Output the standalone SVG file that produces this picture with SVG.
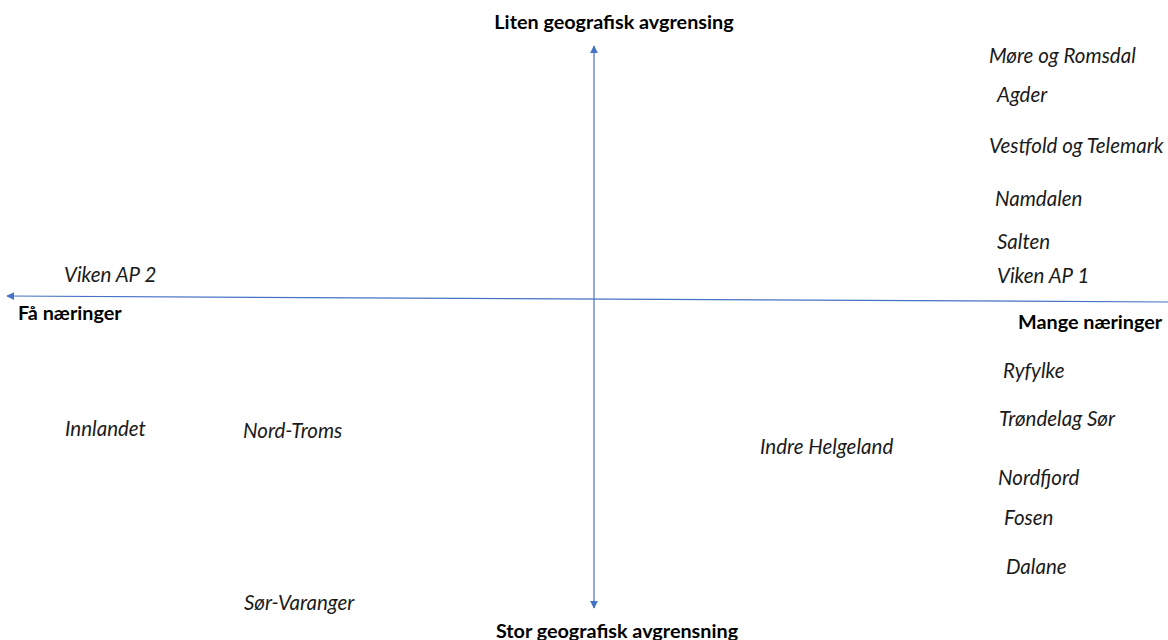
<svg xmlns="http://www.w3.org/2000/svg" width="1168" height="640" viewBox="0 0 1168 640">
<style>
.l{font-family:Lato,"Open Sans","Liberation Sans",sans-serif;font-size:20.5px;font-style:italic;fill:#1a1a1a}
.b{font-family:Lato,"Open Sans","Liberation Sans",sans-serif;font-size:19.8px;font-weight:bold;fill:#000}
.ax{stroke:#4472C4;stroke-width:1.2;fill:none}
</style>
<defs>
<marker id="ah" viewBox="0 0 10 10" refX="9" refY="5" markerWidth="8" markerHeight="8" orient="auto-start-reverse" markerUnits="userSpaceOnUse">
<path d="M0,0 L10,5 L0,10 z" fill="#4472C4"/>
</marker>
</defs>
<rect width="1168" height="640" fill="#fff"/>
<g id="connectors">
<line class="ax" x1="594" y1="46" x2="594" y2="608" marker-start="url(#ah)" marker-end="url(#ah)"/>
<line class="ax" x1="1168" y1="302" x2="7" y2="296" marker-end="url(#ah)"/>
</g>
<g id="axis-top"><text class="b" x="614" y="29" text-anchor="middle">Liten geografisk avgrensing</text></g>
<g id="axis-bottom"><text class="b" x="617" y="638" text-anchor="middle">Stor geografisk avgrensning</text></g>
<g id="axis-left"><text class="b" x="18" y="320">Få næringer</text></g>
<g id="axis-right"><text class="b" x="1018" y="329">Mange næringer</text></g>
<g id="more"><text class="l" x="989" y="62.5">Møre og Romsdal</text></g>
<g id="agder"><text class="l" x="997" y="101.5">Agder</text></g>
<g id="vestfold"><text class="l" x="989" y="152.5">Vestfold og Telemark</text></g>
<g id="namdalen"><text class="l" x="995" y="205.5">Namdalen</text></g>
<g id="salten"><text class="l" x="997" y="248.5">Salten</text></g>
<g id="viken1"><text class="l" x="997" y="282.5">Viken AP 1</text></g>
<g id="viken2"><text class="l" x="64" y="281.5">Viken AP 2</text></g>
<g id="ryfylke"><text class="l" x="1003" y="377.5">Ryfylke</text></g>
<g id="trondelag"><text class="l" x="999" y="425.5">Trøndelag Sør</text></g>
<g id="innlandet"><text class="l" x="65" y="435.5">Innlandet</text></g>
<g id="nordtroms"><text class="l" x="243" y="437.5">Nord-Troms</text></g>
<g id="helgeland"><text class="l" x="760" y="453.5">Indre Helgeland</text></g>
<g id="nordfjord"><text class="l" x="998" y="484.5">Nordfjord</text></g>
<g id="fosen"><text class="l" x="1004" y="524.5">Fosen</text></g>
<g id="dalane"><text class="l" x="1006" y="573.5">Dalane</text></g>
<g id="sorvaranger"><text class="l" x="244" y="609.5">Sør-Varanger</text></g>
</svg>
